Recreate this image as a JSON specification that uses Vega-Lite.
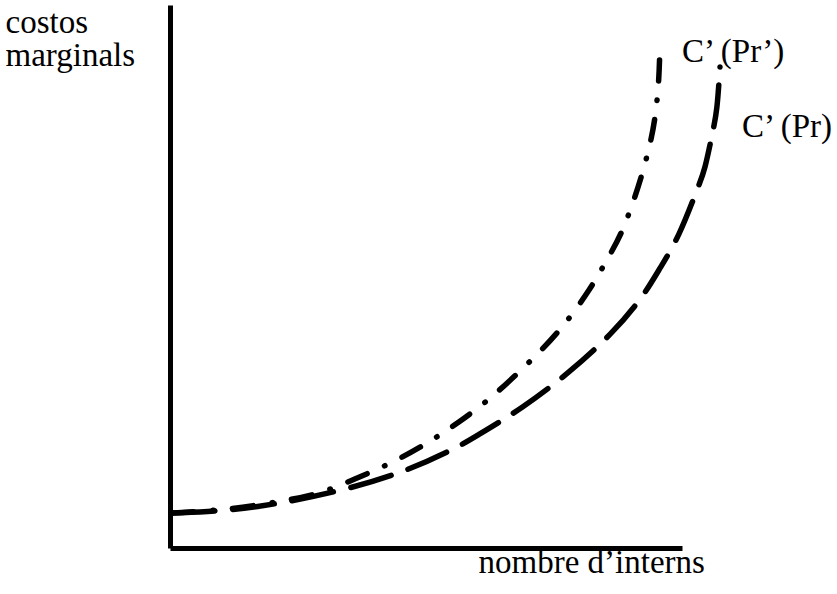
{
  "$schema": "https://vega.github.io/schema/vega-lite/v6.json",
  "autosize": {"type": "none"},
  "width": 512,
  "height": 543,
  "padding": {"left": 170, "top": 5, "right": 155, "bottom": 46},
  "background": "white",
  "config": {
    "view": {"stroke": null},
    "font": "Liberation Serif",
    "axis": {
      "grid": false, "ticks": false, "labels": false,
      "domainColor": "black", "domainWidth": 5,
      "titleFont": "Liberation Serif", "titleFontSize": 33, "titleFontWeight": "normal", "titleColor": "black"
    }
  },
  "datasets": {
    "curves": [
      {"curve": "Pr'", "x": 0.59, "y": 6.45},
      {"curve": "Pr'", "x": 10.74, "y": 7.0},
      {"curve": "Pr'", "x": 21.09, "y": 8.47},
      {"curve": "Pr'", "x": 29.3, "y": 9.94},
      {"curve": "Pr'", "x": 36.13, "y": 12.71},
      {"curve": "Pr'", "x": 43.36, "y": 15.65},
      {"curve": "Pr'", "x": 50.39, "y": 19.34},
      {"curve": "Pr'", "x": 56.25, "y": 23.02},
      {"curve": "Pr'", "x": 63.09, "y": 27.81},
      {"curve": "Pr'", "x": 71.68, "y": 35.54},
      {"curve": "Pr'", "x": 76.76, "y": 40.7},
      {"curve": "Pr'", "x": 82.03, "y": 47.51},
      {"curve": "Pr'", "x": 85.55, "y": 53.41},
      {"curve": "Pr'", "x": 88.09, "y": 57.64},
      {"curve": "Pr'", "x": 90.43, "y": 63.54},
      {"curve": "Pr'", "x": 92.19, "y": 68.69},
      {"curve": "Pr'", "x": 93.75, "y": 74.22},
      {"curve": "Pr'", "x": 94.73, "y": 78.82},
      {"curve": "Pr'", "x": 95.51, "y": 85.64},
      {"curve": "Pr'", "x": 95.7, "y": 93.0},
      {"curve": "Pr", "x": 0.59, "y": 6.45},
      {"curve": "Pr", "x": 10.74, "y": 6.81},
      {"curve": "Pr", "x": 21.09, "y": 8.1},
      {"curve": "Pr", "x": 34.18, "y": 10.68},
      {"curve": "Pr", "x": 45.9, "y": 14.0},
      {"curve": "Pr", "x": 56.25, "y": 18.6},
      {"curve": "Pr", "x": 59.18, "y": 20.26},
      {"curve": "Pr", "x": 68.95, "y": 25.78},
      {"curve": "Pr", "x": 78.13, "y": 32.41},
      {"curve": "Pr", "x": 86.33, "y": 39.41},
      {"curve": "Pr", "x": 92.38, "y": 46.22},
      {"curve": "Pr", "x": 95.7, "y": 51.57},
      {"curve": "Pr", "x": 99.41, "y": 57.27},
      {"curve": "Pr", "x": 103.13, "y": 66.48},
      {"curve": "Pr", "x": 104.49, "y": 69.61},
      {"curve": "Pr", "x": 106.05, "y": 76.98},
      {"curve": "Pr", "x": 106.84, "y": 80.29},
      {"curve": "Pr", "x": 107.42, "y": 88.58}
    ],
    "labels": [
      {"label": "C’ (Pr’)", "x": 100, "y": 89.5},
      {"label": "C’ (Pr)", "x": 111.7, "y": 75.69}
    ]
  },
  "layer": [
    {
      "data": {"name": "curves"},
      "transform": [{"filter": "datum.curve === \"Pr'\""}],
      "mark": {"type": "line", "color": "black", "strokeWidth": 5.5, "strokeCap": "round", "strokeDash": [21, 19, 0.5, 19], "interpolate": "basis", "clip": false},
      "encoding": {
        "x": {"field": "x", "type": "quantitative", "scale": {"domain": [0, 100], "nice": false, "zero": false},
              "axis": {"title": "nombre d’interns", "titleAlign": "left", "titleAnchor": "start", "titleBaseline": "alphabetic", "titleX": 308, "titleY": 24}},
        "y": {"field": "y", "type": "quantitative", "scale": {"domain": [0, 100], "nice": false, "zero": false},
              "axis": {"title": ["costos", "marginals"], "titleAngle": 0, "titleAlign": "left", "titleAnchor": "start", "titleBaseline": "alphabetic", "titleX": -165, "titleY": 27, "titleLineHeight": 33}},
        "order": {"field": "x", "type": "quantitative"}
      }
    },
    {
      "data": {"name": "curves"},
      "transform": [{"filter": "datum.curve === 'Pr'"}],
      "mark": {"type": "line", "color": "black", "strokeWidth": 5.5, "strokeCap": "round", "strokeDash": [42, 18], "interpolate": "basis", "clip": false},
      "encoding": {
        "x": {"field": "x", "type": "quantitative"},
        "y": {"field": "y", "type": "quantitative"},
        "order": {"field": "x", "type": "quantitative"}
      }
    },
    {
      "data": {"name": "labels"},
      "mark": {"type": "text", "font": "Liberation Serif", "fontSize": 33, "align": "left", "baseline": "alphabetic", "color": "black", "clip": false},
      "encoding": {
        "x": {"field": "x", "type": "quantitative"},
        "y": {"field": "y", "type": "quantitative"},
        "text": {"field": "label"}
      }
    }
  ]
}
